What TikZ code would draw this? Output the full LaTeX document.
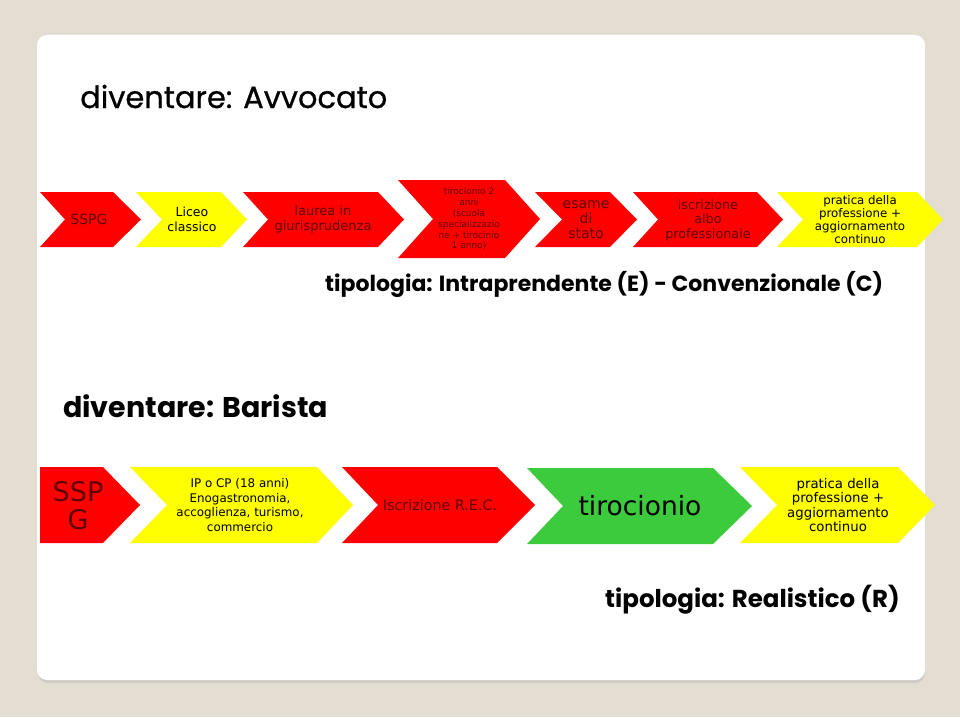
\documentclass[tikz,border=0pt]{standalone}
\usepackage{fontspec}
\setmainfont{DejaVu Sans}
\newfontfamily\headfont{Poppins}
\newfontfamily\headfontspesso{Poppins}[FakeBold=0.8]
\usepackage{xcolor}
\usepackage{tikz}

\definecolor{sfondo}{HTML}{E4DDD2}
\definecolor{ombra}{HTML}{CFCAC4}
\definecolor{rosso}{HTML}{FF0000}
\definecolor{giallo}{HTML}{FFFF00}
\definecolor{verde}{HTML}{3CCB3C}
\definecolor{scuro}{HTML}{5E0000}

\begin{document}
\begin{tikzpicture}[x=1pt,y=-1pt,
    testo/.style={align=center, inner sep=0pt, font=\fontsize{13}{14.5}\selectfont},
    piccolo/.style={testo, font=\fontsize{9}{10.8}\selectfont},
    grande/.style={testo, font=\fontsize{26.5}{28}\selectfont},
    titolo/.style={anchor=base west, inner sep=0pt, font=\headfontspesso\fontsize{30.5}{34}\selectfont},
    sottotitolo/.style={anchor=base west, inner sep=0pt, font=\headfont\bfseries\fontsize{22}{26}\selectfont}]
    \useasboundingbox (0,0) rectangle (960,717);

    % Draw the background and the white panel
    \fill[sfondo] (0,0) rectangle (960,717);
    \fill[ombra] (38,38) [rounded corners=10pt] rectangle (925,683);
    \fill[white] (37,35) [rounded corners=10pt] rectangle (925,680);

    % Titles
    \node[titolo] (avvocato) at (80,108) {diventare: Avvocato};
    \node[sottotitolo] (tipoec) at (325,291) {tipologia: Intraprendente (E) - Convenzionale (C)};
    \node[sottotitolo, font=\headfont\bfseries\fontsize{28.5}{32}\selectfont] (barista) at (63,417) {diventare: Barista};
    \node[sottotitolo, font=\headfont\bfseries\fontsize{24.5}{28}\selectfont] (tipor) at (605,607) {tipologia: Realistico (R)};

    % First row of arrows (Avvocato)
    \fill[rosso] (40,192) -- (113,192) -- (141,219.5) -- (113,247) -- (40,247) -- (65,219.5) -- cycle;
    \fill[giallo] (136,192) -- (221,192) -- (247,219.5) -- (221,247) -- (136,247) -- (162,219.5) -- cycle;
    \fill[rosso] (243,192) -- (378,192) -- (404,219.5) -- (378,247) -- (243,247) -- (268,219.5) -- cycle;
    \fill[rosso] (398,180) -- (505,180) -- (540,219) -- (505,258) -- (398,258) -- (433,219) -- cycle;
    \fill[rosso] (535,192) -- (610,192) -- (637,219.5) -- (610,247) -- (535,247) -- (562,219.5) -- cycle;
    \fill[rosso] (633,192) -- (757,192) -- (783,219.5) -- (757,247) -- (633,247) -- (658,219.5) -- cycle;
    \fill[giallo] (777,192) -- (917,192) -- (943,219.5) -- (917,247) -- (777,247) -- (803,219.5) -- cycle;

    \node[testo, text=scuro, font=\fontsize{14}{15}\selectfont] (sspg) at (89,219.5) {SSPG};
    \node[testo, font=\fontsize{12.5}{14.5}\selectfont] (liceo) at (192,219.5) {Liceo\\classico};
    \node[testo, text=scuro] (laurea) at (323,219.5) {laurea in\\giurisprudenza};
    \node[piccolo, text=scuro] (tirocinio) at (469,219) {tirocionio 2\\anni\\(scuola\\specializzazio\\ne + tirocinio\\1 anno)};
    \node[testo, text=scuro, font=\fontsize{14}{15}\selectfont] (esame) at (586,219.5) {esame\\di\\stato};
    \node[testo, text=scuro, font=\fontsize{12.8}{14.5}\selectfont] (albo) at (708,220) {iscrizione\\albo\\professionale};
    \node[testo, font=\fontsize{11.8}{13}\selectfont] (pratica) at (860,219.5) {pratica della\\professione +\\aggiornamento\\continuo};

    % Second row of arrows (Barista)
    \fill[rosso] (40,467) -- (103,467) -- (140,505) -- (103,543) -- (40,543) -- cycle;
    \fill[giallo] (130,467) -- (317,467) -- (353,505) -- (317,543) -- (130,543) -- (167,505) -- cycle;
    \fill[rosso] (342,467) -- (497,467) -- (535,505) -- (497,543) -- (342,543) -- (378,505) -- cycle;
    \fill[verde] (527,468) -- (713,468) -- (752,506) -- (713,544) -- (527,544) -- (563,506) -- cycle;
    \fill[giallo] (740,467) -- (898,467) -- (935,505) -- (898,543) -- (740,543) -- (777,505) -- cycle;

    \node[grande, text=scuro, font=\fontsize{27}{28}\selectfont] (sspgb) at (78,506) {SSP\\G};
    \node[testo, font=\fontsize{11.9}{14.5}\selectfont] (ipcp) at (240,505) {IP o CP (18 anni)\\Enogastronomia,\\accoglienza, turismo,\\commercio};
    \node[testo, text=scuro, font=\fontsize{14.3}{15}\selectfont] (rec) at (440,505) {Iscrizione R.E.C.};
    \node[grande] (tirocionio) at (640,506) {tirocionio};
    \node[testo, font=\fontsize{13.3}{14.5}\selectfont] (praticab) at (838,505) {pratica della\\professione +\\aggiornamento\\continuo};
\end{tikzpicture}
\end{document}
